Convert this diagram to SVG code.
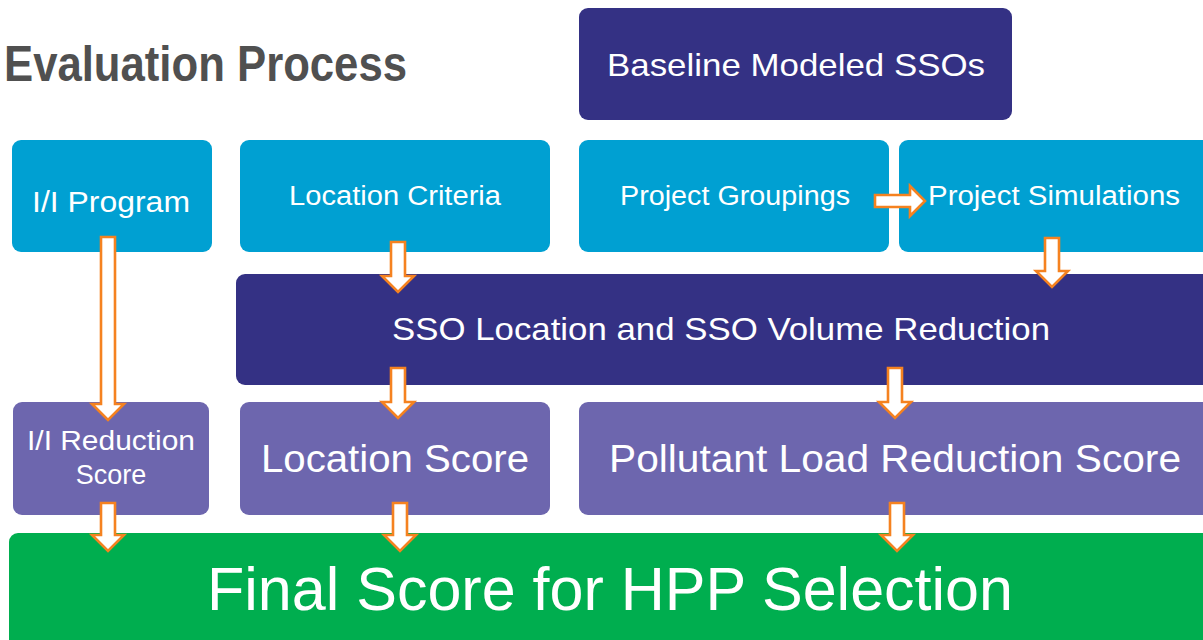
<svg xmlns="http://www.w3.org/2000/svg" width="1203" height="640" viewBox="0 0 1203 640">
<style>
.t{font-family:"Liberation Sans",Arial,sans-serif;fill:#fff;text-anchor:middle}
.cyan{fill:#00a0d2}
.navy{fill:#343184}
.purple{fill:#6d66ae}
.green{fill:#00ae4f}
.arr{fill:#fff;stroke:#f58220;stroke-width:2.6;stroke-linejoin:miter}
</style>
<rect width="1203" height="640" fill="#fff"/>
<text x="4" y="81" font-family="Liberation Sans,Arial,sans-serif" font-weight="bold" font-size="50" fill="#505050" textLength="403" lengthAdjust="spacingAndGlyphs">Evaluation Process</text>
<g id="baseline"><rect class="navy" x="579" y="8" width="433" height="112" rx="9"/><text class="t" x="796" y="76" font-size="32" textLength="378" lengthAdjust="spacingAndGlyphs">Baseline Modeled SSOs</text></g>
<g id="ii-program"><rect class="cyan" x="12" y="140" width="200" height="112" rx="9"/><text class="t" x="111" y="212" font-size="30" textLength="158" lengthAdjust="spacingAndGlyphs">I/I Program</text></g>
<g id="location-criteria"><rect class="cyan" x="240" y="140" width="310" height="112" rx="9"/><text class="t" x="395" y="205" font-size="27" textLength="212" lengthAdjust="spacingAndGlyphs">Location Criteria</text></g>
<g id="project-groupings"><rect class="cyan" x="579" y="140" width="310" height="112" rx="9"/><text class="t" x="735" y="205" font-size="27" textLength="230" lengthAdjust="spacingAndGlyphs">Project Groupings</text></g>
<g id="project-simulations"><rect class="cyan" x="899" y="140" width="314" height="112" rx="9"/><text class="t" x="1054" y="205" font-size="27" textLength="252" lengthAdjust="spacingAndGlyphs">Project Simulations</text></g>
<g id="sso-reduction"><rect class="navy" x="236" y="274" width="977" height="111" rx="9"/><text class="t" x="721" y="340" font-size="32" textLength="658" lengthAdjust="spacingAndGlyphs">SSO Location and SSO Volume Reduction</text></g>
<g id="ii-reduction-score"><rect class="purple" x="13" y="402" width="196" height="113" rx="9"/><text class="t" x="111" y="450" font-size="27" textLength="168" lengthAdjust="spacingAndGlyphs">I/I Reduction</text><text class="t" x="111" y="484" font-size="27">Score</text></g>
<g id="location-score"><rect class="purple" x="240" y="402" width="310" height="113" rx="9"/><text class="t" x="395" y="472" font-size="38" textLength="268" lengthAdjust="spacingAndGlyphs">Location Score</text></g>
<g id="pollutant-score"><rect class="purple" x="579" y="402" width="634" height="113" rx="9"/><text class="t" x="895" y="472" font-size="38" textLength="572" lengthAdjust="spacingAndGlyphs">Pollutant Load Reduction Score</text></g>
<g id="final-score"><rect class="green" x="9" y="533" width="1204" height="117" rx="9"/><text class="t" x="610" y="610" font-size="62" textLength="806" lengthAdjust="spacingAndGlyphs">Final Score for HPP Selection</text></g>
<g id="connectors">
<polygon class="arr" points="101,237 115,237 115,404 124,404 108,420 92,404 101,404"/>
<polygon class="arr" points="391,242 405,242 405,276 414,276 398,292 382,276 391,276"/>
<polygon class="arr" points="1045,238 1059,238 1059,271 1068,271 1052,287 1036,271 1045,271"/>
<polygon class="arr" points="391,368 405,368 405,402 414,402 398,418 382,402 391,402"/>
<polygon class="arr" points="888,368 902,368 902,402 911,402 895,418 879,402 888,402"/>
<polygon class="arr" points="101,503 115,503 115,535 124,535 108,551 92,535 101,535"/>
<polygon class="arr" points="393,503 407,503 407,535 416,535 400,551 384,535 393,535"/>
<polygon class="arr" points="890,503 904,503 904,535 913,535 897,551 881,535 890,535"/>
<polygon class="arr" points="875,195 910,195 910,186 925,201 910,216 910,207 875,207"/>
</g>
</svg>
